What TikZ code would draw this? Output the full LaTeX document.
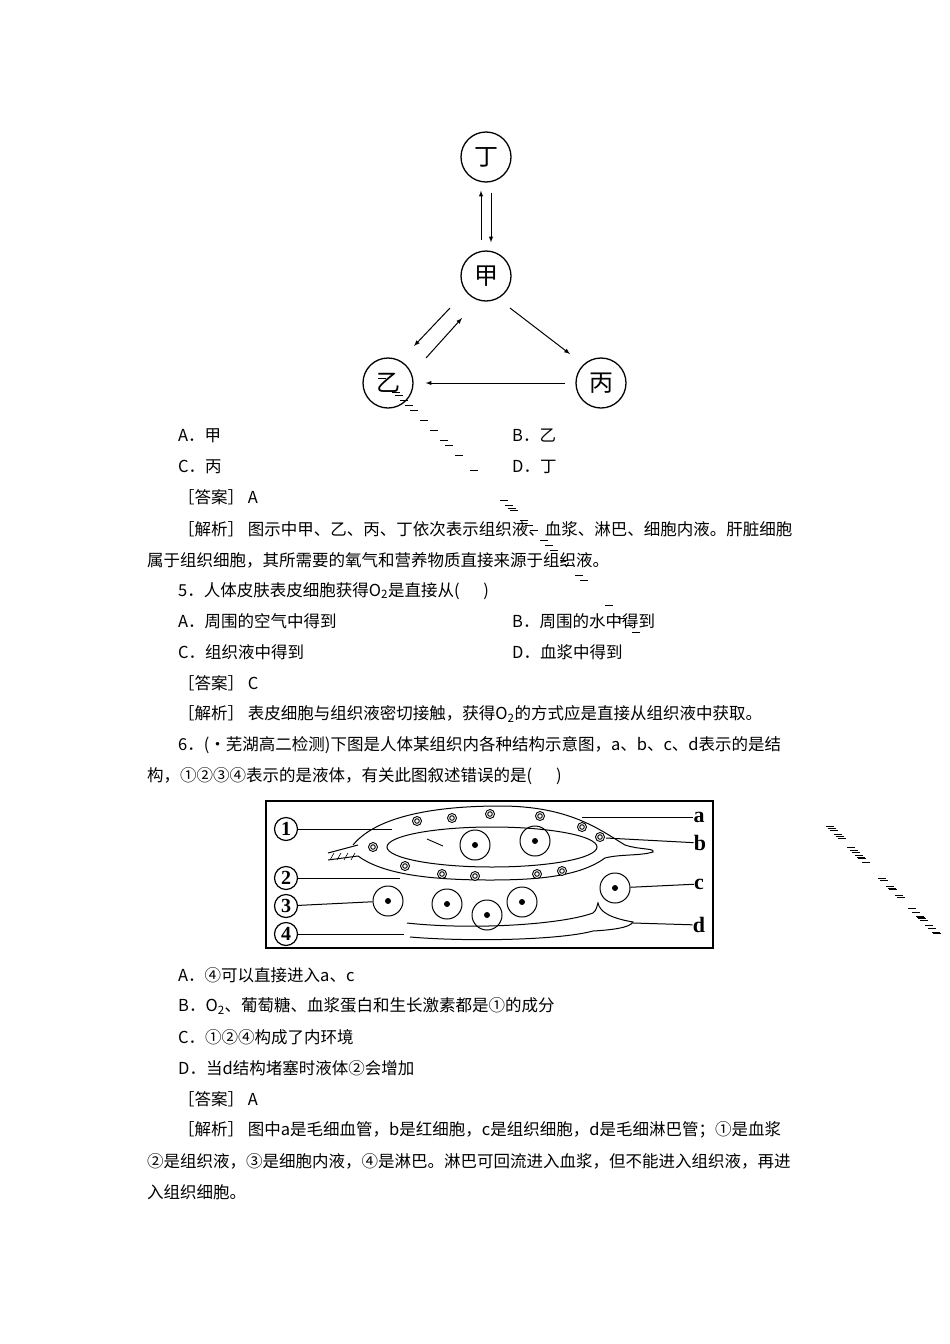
\documentclass[tikz,border=0pt]{standalone}
\usepackage{fontspec}
\setmainfont{Noto Sans CJK SC}
\newfontfamily\lab{Liberation Serif}
\begin{document}
\begin{tikzpicture}[x=1pt,y=-1pt,
 txt/.style={anchor=west,inner sep=0pt,font=\fontsize{16.5}{16.5}\selectfont},
 cn/.style={circle,draw,line width=1.3pt,minimum size=50pt,inner sep=0pt,font=\fontsize{24}{24}\selectfont},
 arr/.style={-latex,line width=1pt},
 cir/.style={circle,draw,line width=1.2pt,minimum size=23pt,inner sep=0pt,font=\lab\bfseries\fontsize{20}{20}\selectfont},
 rbc/.style={circle,draw,line width=0.9pt,minimum size=9pt,inner sep=0pt,fill=white,path picture={\draw (path picture bounding box.center) circle (2.3pt);}},
 cell/.style={circle,draw,line width=1pt,minimum size=30pt,inner sep=0pt,path picture={\fill (path picture bounding box.center) circle (3pt);}},
 dsh/.style={line width=0.9pt},
 ll/.style={line width=1pt},
 lt/.style={font=\lab\bfseries\fontsize{22}{22}\selectfont,inner sep=0pt}]
\useasboundingbox (0,0) rectangle (950,1344);
% ---------- top diagram
\node[cn] (d) at (486,157) {丁};
\node[cn] (j) at (486,276) {甲};
\node[cn] (y) at (388,383) {乙};
\node[cn] (b) at (601,383) {丙};
\draw[arr] ([xshift=-5pt]j.north) ++(0,-10) -- ([xshift=-5pt,yshift=-8pt]d.south);
\draw[arr] ([xshift=5pt,yshift=-10pt]d.south) -- ([xshift=5pt,yshift=8pt]j.north);
\coordinate (a1) at (450,308); \coordinate (a2) at (414,346);
\coordinate (a3) at (426,358); \coordinate (a4) at (462,318);
\draw[arr] (a1) -- (a2);
\draw[arr] (a3) -- (a4);
\coordinate (a5) at (510,308); \coordinate (a6) at (570,354);
\draw[arr] (a5) -- (a6);
\draw[arr] (b.west) ++(-10,0) -- ([xshift=12pt]y.east);
% ---------- text
\node[txt] at (178,436) {A．甲};  \node[txt] at (512,436) {B．乙};
\node[txt] at (178,467) {C．丙};  \node[txt] at (512,467) {D．丁};
\node[txt] at (178,497) {［答案］ A};
\node[txt] at (178,529) {［解析］ 图示中甲、乙、丙、丁依次表示组织液、血浆、淋巴、细胞内液。肝脏细胞};
\node[txt] at (147,560) {属于组织细胞，其所需要的氧气和营养物质直接来源于组织液。};
\node[txt] at (178,591) {5．人体皮肤表皮细胞获得O\textsubscript{2}是直接从(\quad\ \ )};
\node[txt] at (178,621) {A．周围的空气中得到}; \node[txt] at (512,621) {B．周围的水中得到};
\node[txt] at (178,652) {C．组织液中得到}; \node[txt] at (512,652) {D．血浆中得到};
\node[txt] at (178,683) {［答案］ C};
\node[txt] at (178,714) {［解析］ 表皮细胞与组织液密切接触，获得O\textsubscript{2}的方式应是直接从组织液中获取。};
\node[txt] at (178,745) {6．(·芜湖高二检测)下图是人体某组织内各种结构示意图，a、b、c、d表示的是结};
\node[txt] at (147,776) {构，①②③④表示的是液体，有关此图叙述错误的是(\quad\ \ )};
\node[txt] at (178,975) {A．④可以直接进入a、c};
\node[txt] at (178,1006) {B．O\textsubscript{2}、葡萄糖、血浆蛋白和生长激素都是①的成分};
\node[txt] at (178,1037) {C．①②④构成了内环境};
\node[txt] at (178,1068) {D．当d结构堵塞时液体②会增加};
\node[txt] at (178,1099) {［答案］ A};
\node[txt] at (178,1130) {［解析］ 图中a是毛细血管，b是红细胞，c是组织细胞，d是毛细淋巴管；①是血浆};
\node[txt] at (147,1161) {②是组织液，③是细胞内液，④是淋巴。淋巴可回流进入血浆，但不能进入组织液，再进};
\node[txt] at (147,1192) {入组织细胞。};
% ---------- tissue diagram
\draw[line width=1.3pt] (266,801) rectangle (713,948);
% capillary outer wall
\draw[ll] (353,845) .. controls (380,812) and (450,806) .. (500,806)
  .. controls (570,806) and (600,830) .. (625,845) .. controls (640,850) and (655,848) .. (653,852)
  .. controls (640,856) and (620,854) .. (605,858) .. controls (580,876) and (540,880) .. (490,880)
  .. controls (420,880) and (380,872) .. (358,856);
\draw[ll] (328,853) -- (358,845) (328,860) -- (358,856);
\foreach \k in {330,337,344,351} \draw[line width=0.6pt] (\k,860) -- (\k+4,853);
\draw[ll] (492,847) ellipse (105 and 20);
% red cells
\foreach \p [count=\i] in {(417,821),(452,818),(490,814),(540,816),(582,827),(600,837),(373,847),(405,866),(442,874),(475,876),(537,874),(562,871)}
  \node[rbc] (r\i) at \p {};
% cells
\node[cell] (c1) at (475,845) {};
\node[cell] (c2) at (535,841) {};
\node[cell] (cc) at (615,888) {};
\node[cell] (c3) at (388,901) {};
\node[cell] (c4) at (447,904) {};
\node[cell] (c5) at (487,915) {};
\node[cell] (c6) at (522,902) {};
% lymph vessel
\draw[ll] (407,923) .. controls (470,930) and (560,925) .. (593,913) .. controls (597,910) and (597,905) .. (598,903)
  .. controls (600,912) and (610,918) .. (633,922) .. controls (630,928) and (610,930) .. (593,931)
  .. controls (560,940) and (470,942) .. (410,937);
% dashes
\foreach \x/\y in {420,830, 445,836, 508,826, 520,830, 455,857, 505,858, 520,862, 545,855, 560,862, 575,847, 580,838, 430,852, 400,834, 392,828,
 378,888, 410,886, 440,888, 470,888, 500,889, 530,886, 560,886, 575,878, 395,880, 420,895, 470,897, 550,908, 565,912, 405,918, 430,920, 510,925, 525,925, 560,920, 605,916, 618,917, 420,928, 470,933, 540,932, 625,850, 632,852}
  \draw[dsh] (\x,\y) -- ++(8,0);
\draw[dsh] (427,839) -- (443,846);
% labels
\node[cir] (n1) at (286,829) {1};
\node[cir] (n2) at (286,878) {2};
\node[cir] (n3) at (286,906) {3};
\node[cir] (n4) at (286,934) {4};
\coordinate (e1) at (392,829); \coordinate (e2) at (400,878); \coordinate (e4) at (404,934);
\draw[ll] (n1) -- (e1); \draw[ll] (n2) -- (e2); \draw[ll] (n3) -- (c3); \draw[ll] (n4) -- (e4);
\node[lt] (la) at (699,817) {a};
\node[lt] (lb) at (700,843) {b};
\node[lt] (lc) at (699,884) {c};
\node[lt] (ld) at (699,925) {d};
\coordinate (ea) at (582,817); \coordinate (eb) at (606,838); \coordinate (ed) at (633,923);
\draw[ll] (ea) -- (la); \draw[ll] (eb) -- (lb); \draw[ll] (cc) -- (lc); \draw[ll] (ed) -- (ld);
\end{tikzpicture}
\end{document}
